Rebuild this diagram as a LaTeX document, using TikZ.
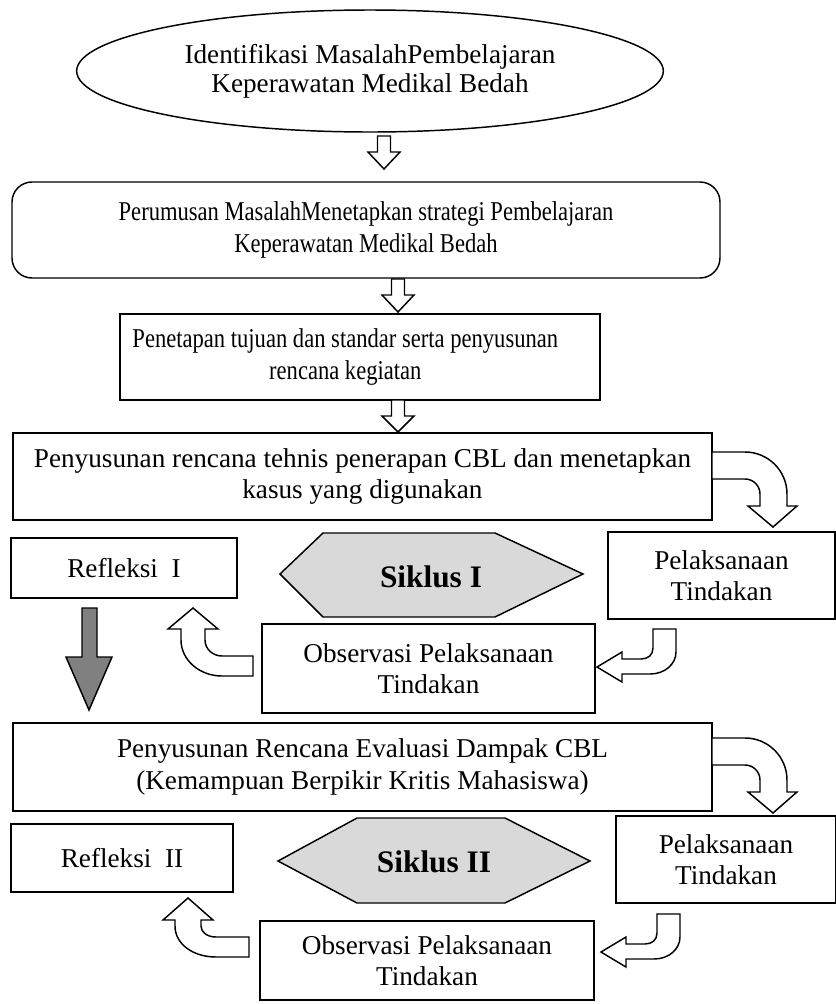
\documentclass[tikz,border=0pt]{standalone}
\usepackage{fontspec}
\setmainfont{Liberation Serif}
\newfontfamily\condensedfont[FakeStretch=0.83]{Liberation Serif}
\usetikzlibrary{shapes.geometric}
\definecolor{hexgray}{RGB}{217,217,217}
\definecolor{arrgray}{RGB}{128,128,128}
\newcommand\hollowdown[4]{%
  \draw[blockarrow] ({#1-6.5},{#2}) -- ({#1+6.5},{#2}) -- ({#1+6.5},{#3}) -- ({#1+16},{#3}) -- ({#1},{#4}) -- ({#1-16},{#3}) -- ({#1-6.5},{#3}) -- cycle;}
\begin{document}
\begin{tikzpicture}[x=0.75pt,y=-0.75pt,
  txt/.style={font=\fontsize{20.4}{23.5}\selectfont, align=center},
  box/.style={txt, draw, line width=1.1pt, inner sep=0pt, outer sep=0pt},
  condensed/.style={font=\fontsize{20.4}{24.5}\condensedfont},
  blockarrow/.style={draw, line width=1.1pt, fill=white, line join=miter},
  grayarrow/.style={draw, line width=1.1pt, fill=arrgray, line join=miter},
  hexa/.style={draw, line width=1.1pt, fill=hexgray, line join=miter},
  hextext/.style={font=\fontsize{23.5}{26}\selectfont\bfseries, inner sep=0pt}]
\useasboundingbox (0,0) rectangle (836,1004);
\fill[white] (0,0) rectangle (836,1004);

% top chain
\node[box, ellipse, minimum width=440pt, minimum height=91.5pt, font=\fontsize{20.4}{22}\selectfont] (idf) at (370,71)
  {Identifikasi MasalahPembelajaran\\Keperawatan Medikal Bedah};
\node[box, condensed, rounded corners=15pt, minimum width=531pt, minimum height=72pt] (rum) at (366,230)
  {Perumusan MasalahMenetapkan strategi Pembelajaran\\Keperawatan Medikal Bedah};
\node[box, condensed, minimum width=360pt, minimum height=64.5pt] (tuj) at (360,357)
  {\begin{tabular}{@{}c@{}}Penetapan tujuan dan standar serta penyusunan\\rencana kegiatan\end{tabular}\hspace*{22pt}};
\node[box, minimum width=524.25pt, minimum height=65.25pt] (ren1) at (362.5,476.5)
  {Penyusunan rencana tehnis penerapan CBL dan menetapkan\\kasus yang digunakan};

\hollowdown{384}{136}{152}{169}
\hollowdown{398}{279}{295}{312}
\hollowdown{398}{400}{416}{432}

% cycle I
\node[box, minimum width=170.25pt, minimum height=65.25pt] (pel1) at (721.5,575.5) {Pelaksanaan\\Tindakan};
\node[box, minimum width=169.5pt, minimum height=45pt] (ref1) at (124,568) {Refleksi~~I};
\node[box, minimum width=249.75pt, minimum height=66.75pt] (obs1) at (428.5,668.5) {Observasi Pelaksanaan\\Tindakan};
\draw[hexa] (280,574) -- (323,533) -- (495,533) -- (583,574) -- (495,617) -- (323,617) -- cycle;
\node[hextext] (sik1) at (431,577) {Siklus I};

\draw[blockarrow] (712,479) -- (745,479) .. controls (753.3,479) and (760,485.7) .. (760,494) -- (760,506) -- (748,506) -- (773,527) -- (797,506) -- (787,506) -- (787,494) .. controls (787,470.8) and (768.2,452) .. (745,452) -- (712,452) -- cycle;
\draw[blockarrow] (653,629) -- (676,629) -- (676,652) .. controls (676,664) and (665,674) .. (650,674) -- (622,674) -- (622,682) -- (597,667) -- (622,652) -- (622,659) -- (641,659) .. controls (648,659) and (653,655) .. (653,648) -- cycle;
\draw[blockarrow] (253,656) -- (222,656) .. controls (212.6,656) and (205,648.8) .. (205,640) -- (205,629) -- (218,629) -- (193,608) -- (168,629) -- (181,629) -- (181,640) .. controls (181,659.9) and (199.4,676) .. (222,676) -- (253,676) -- cycle;
\draw[grayarrow] (82,608) -- (97,608) -- (97,657) -- (112,657) -- (89,710) -- (66,657) -- (82,657) -- cycle;

% cycle II
\node[box, minimum width=524.25pt, minimum height=66pt] (ren2) at (362.5,767)
  {Penyusunan Rencana Evaluasi Dampak CBL\\(Kemampuan Berpikir Kritis Mahasiswa)};
\node[box, minimum width=165pt, minimum height=65.25pt] (pel2) at (726,859.5) {Pelaksanaan\\Tindakan};
\node[box, minimum width=166.5pt, minimum height=51pt] (ref2) at (122,858) {Refleksi~~II};
\node[box, minimum width=250.5pt, minimum height=59.25pt] (obs2) at (427,960.5) {Observasi Pelaksanaan\\Tindakan};
\draw[hexa] (278,861) -- (357,818) -- (505,818) -- (590,861) -- (505,903) -- (357,903) -- cycle;
\node[hextext] (sik2) at (434,862) {Siklus II};

\draw[blockarrow] (712,765) -- (745,765) .. controls (753.3,765) and (760,771.7) .. (760,780) -- (760,792) -- (748,792) -- (773,813) -- (797,792) -- (787,792) -- (787,780) .. controls (787,756.8) and (768.2,738) .. (745,738) -- (712,738) -- cycle;
\draw[blockarrow] (657,914) -- (680,914) -- (680,937) .. controls (680,949) and (669,959) .. (654,959) -- (626,959) -- (626,967) -- (601,952) -- (626,937) -- (626,944) -- (645,944) .. controls (652,944) and (657,940) .. (657,933) -- cycle;
\draw[blockarrow] (249,937) -- (216,937) .. controls (207,937) and (201,932) .. (201,926) -- (201,920) -- (213,920) -- (188,898) -- (163,920) -- (175,920) -- (175,926) .. controls (175,944) and (193,957) .. (216,957) -- (249,957) -- cycle;
\end{tikzpicture}
\end{document}
